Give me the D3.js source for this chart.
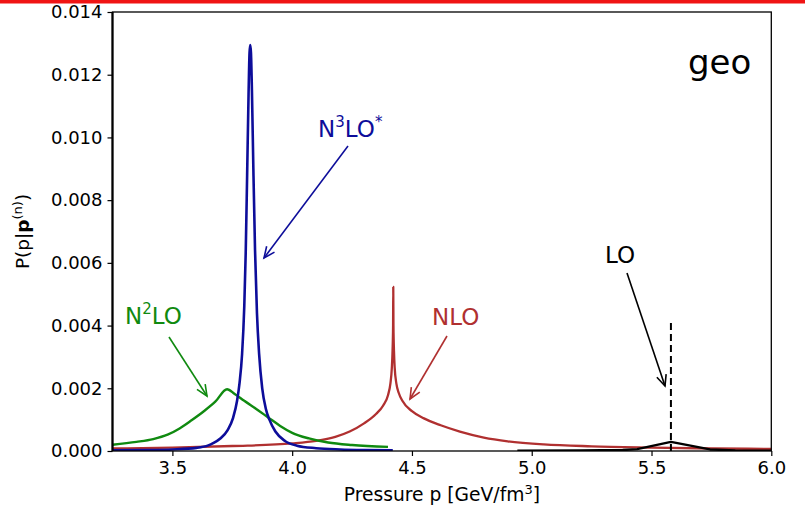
<!DOCTYPE html>
<html><head><meta charset="utf-8">
<script src="https://cdn.jsdelivr.net/npm/d3@7"></script>
<style>
html,body{margin:0;padding:0;background:#fff;}
svg{display:block;font-family:"DejaVu Sans",sans-serif;}
</style></head>
<body><svg id="c" width="805" height="508"></svg>
<script>
// ---- data ----
const xTicks = [3.5, 4.0, 4.5, 5.0, 5.5, 6.0];
const yTicks = [0, 0.002, 0.004, 0.006, 0.008, 0.010, 0.012, 0.014];
const xDomain = [3.25, 6.0];
const yDomain = [0, 0.014];

// N3LO* (blue)
const n3loPts = [
  [3.25,0.00002],[3.40,0.00003],[3.50,0.00005],[3.60,0.00010],[3.65,0.00018],[3.67,0.00025],
  [3.70,0.00040],[3.73,0.00066],[3.753,0.00105],[3.77,0.00160],[3.78,0.00215],[3.791,0.00310],
  [3.80,0.00460],[3.806,0.00630],[3.812,0.00880],[3.818,0.01140],[3.822,0.01270],[3.825,0.01295],
  [3.828,0.01270],[3.832,0.01150],[3.838,0.00900],[3.845,0.00640],[3.853,0.00440],[3.862,0.00310],
  [3.875,0.00200],[3.89,0.00135],[3.905,0.00100],[3.93,0.00062],[3.97,0.00032],[4.02,0.00017],
  [4.10,0.00009],[4.20,0.00005],[4.30,0.00003],[4.42,0.00002]
];
// N2LO (green)
const n2loPts = [
  [3.25,0.00020],[3.35,0.00029],[3.42,0.00038],[3.48,0.00052],[3.53,0.00072],[3.58,0.00098],
  [3.63,0.00126],[3.68,0.00158],[3.728,0.00197],[3.76,0.00182],[3.80,0.00160],[3.85,0.00134],
  [3.90,0.00107],[3.95,0.00080],[4.00,0.00058],[4.07,0.00040],[4.15,0.00027],[4.25,0.00019],
  [4.40,0.00013]
];
// NLO (red)
const nloPts = [
  [3.25,0.00008],[3.50,0.00011],[3.75,0.00016],[4.00,0.00024],[4.10,0.00032],[4.18,0.00045],
  [4.24,0.00062],[4.30,0.00088],[4.35,0.00118],[4.38,0.00145],[4.40,0.00178],[4.41,0.00215],
  [4.416,0.00265],[4.419,0.00320],[4.4212,0.00400],[4.422,0.00523],[4.4228,0.00400],[4.425,0.00320],
  [4.428,0.00265],[4.435,0.00215],[4.445,0.00185],[4.46,0.00160],[4.50,0.00127],[4.55,0.00104],
  [4.62,0.00082],[4.70,0.00062],[4.80,0.00043],[4.90,0.00031],[5.05,0.00021],[5.25,0.00015],
  [5.50,0.00011],[5.75,0.00008],[6.00,0.00007]
];
// LO (black)
const loPts = [
  [4.94,0.00001],[5.20,0.00002],[5.38,0.00003],[5.44,0.00006],[5.581,0.00029],[5.744,0.00005],
  [5.85,0.00002],[6.00,0.00001]
];
const loMarker = [[5.581,0],[5.581,0.00421]];

// ---- layout ----
const svg = d3.select("#c");
const L = 112.5, R = 771.3, T = 12, B = 451;
const x = d3.scaleLinear().domain(xDomain).range([L, R]);
const y = d3.scaleLinear().domain(yDomain).range([B, T]);

svg.append("defs").append("clipPath").attr("id","clip")
  .append("rect").attr("x",L).attr("y",T).attr("width",R-L).attr("height",B-T);

const g = svg.append("g").attr("clip-path","url(#clip)");
const smooth = d3.line().x(d=>x(d[0])).y(d=>y(d[1])).curve(d3.curveMonotoneX);
const straight = d3.line().x(d=>x(d[0])).y(d=>y(d[1]));

g.append("path").datum(nloPts).attr("d",smooth).attr("fill","none")
  .attr("stroke","#b03030").attr("stroke-width",2.3).attr("stroke-linejoin","round");
g.append("path").datum(n2loPts).attr("d",smooth).attr("fill","none")
  .attr("stroke","#108a10").attr("stroke-width",2.4).attr("stroke-linejoin","round");
g.append("path").datum(n3loPts).attr("d",smooth).attr("fill","none")
  .attr("stroke","#0d0d9a").attr("stroke-width",2.6).attr("stroke-linejoin","round");
g.append("path").datum(loPts).attr("d",straight).attr("fill","none")
  .attr("stroke","#000").attr("stroke-width",2.4).attr("stroke-linejoin","round");
g.append("path").datum(loMarker).attr("d",straight).attr("fill","none")
  .attr("stroke","#000").attr("stroke-width",2).attr("stroke-dasharray","7,4");

// axes
const xAxis = d3.axisBottom(x).tickValues(xTicks).tickFormat(d3.format(".1f")).tickSizeOuter(0).tickSize(5).tickPadding(5);
const yAxis = d3.axisLeft(y).tickValues(yTicks).tickFormat(d3.format(".3f")).tickSizeOuter(0).tickSize(5).tickPadding(5);
const gx = svg.append("g").attr("transform",`translate(0,${B})`).call(xAxis);
const gy = svg.append("g").attr("transform",`translate(${L},0)`).call(yAxis);
[gx,gy].forEach(a=>{
  a.select(".domain").remove();
  a.selectAll("text").attr("font-family","DejaVu Sans").attr("font-size",18).attr("fill","#000");
  a.selectAll("line").attr("stroke","#000").attr("stroke-width",1.2);
});

// frame
svg.append("rect").attr("x",L).attr("y",T).attr("width",R-L).attr("height",B-T)
  .attr("fill","none").attr("stroke","#000").attr("stroke-width",1.3);
svg.append("line").attr("x1",L).attr("x2",L).attr("y1",T).attr("y2",B)
  .attr("stroke","#000").attr("stroke-width",2.2);

// axis labels
const xl = svg.append("text").attr("x",(L+R)/2).attr("y",501).attr("text-anchor","middle")
  .attr("font-size",18.7).attr("fill","#000");
xl.append("tspan").text("Pressure p [GeV/fm");
xl.append("tspan").attr("dy",-7).attr("font-size",13).text("3");
xl.append("tspan").attr("dy",7).text("]");

const yl = svg.append("text").attr("transform",`translate(29,${(T+B)/2}) rotate(-90)`)
  .attr("text-anchor","middle").attr("font-size",18.5).attr("fill","#000");
yl.append("tspan").text("P(p|");
yl.append("tspan").attr("font-weight","bold").text("p");
yl.append("tspan").attr("dy",-7).attr("font-size",13).text("(n)");
yl.append("tspan").attr("dy",7).text(")");

// annotations
function arrow(x1,y1,x2,y2,color){
  svg.append("line").attr("x1",x1).attr("y1",y1).attr("x2",x2).attr("y2",y2)
    .attr("stroke",color).attr("stroke-width",1.6);
  const a = Math.atan2(y2-y1,x2-x1), h=12, s=0.42;
  const p = [[x2-h*Math.cos(a-s), y2-h*Math.sin(a-s)],[x2,y2],[x2-h*Math.cos(a+s), y2-h*Math.sin(a+s)]];
  svg.append("path").attr("d",d3.line()(p)).attr("fill","none").attr("stroke",color)
    .attr("stroke-width",1.6);
}
function label(xp,yp,parts,color){
  const t = svg.append("text").attr("x",xp).attr("y",yp).attr("font-size",23).attr("fill",color);
  parts.forEach(p=>{
    const s = t.append("tspan").text(p.t);
    if(p.sup){ s.attr("font-size",15).attr("dy",-10); }
    if(p.down){ s.attr("dy",10); }
  });
}
label(318,137,[{t:"N"},{t:"3",sup:true},{t:"LO",down:true},{t:"*",sup:true}],"#0d0d9a");
arrow(348,146,264,258,"#0d0d9a");
label(125,324,[{t:"N"},{t:"2",sup:true},{t:"LO",down:true}],"#108a10");
arrow(169,337,207,396,"#108a10");
svg.append("text").attr("x",432).attr("y",325).attr("font-size",23).attr("fill","#b03030").text("NLO");
arrow(447,336,410,399,"#b03030");
svg.append("text").attr("x",605).attr("y",263).attr("font-size",23).attr("fill","#000").text("LO");
arrow(627,273,665,386,"#000");
svg.append("text").attr("x",688).attr("y",74).attr("font-size",34).attr("fill","#000").text("geo");

// red top bar
svg.append("rect").attr("x",0).attr("y",0).attr("width",805).attr("height",3.5).attr("fill","#f01414");
</script>
</body></html>
